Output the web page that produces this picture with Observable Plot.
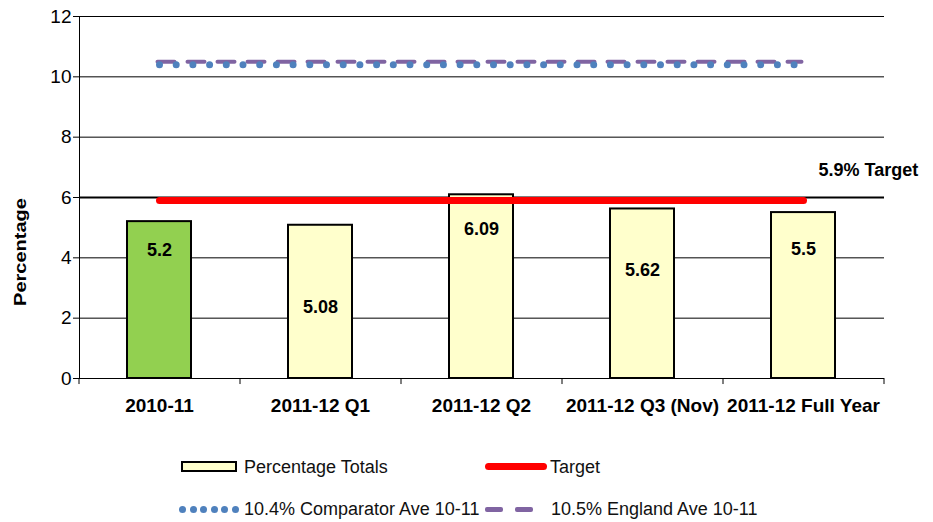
<!DOCTYPE html>
<html>
<head>
<meta charset="utf-8">
<script src="https://cdn.jsdelivr.net/npm/d3@7"></script>
<script src="https://cdn.jsdelivr.net/npm/@observablehq/plot@0.6"></script>
<style>
  body { margin: 0; background: #fff; }
  #wrap { position: relative; width: 933px; height: 522px; font-family: "Liberation Sans", Arial, sans-serif; color: #000; }
  #chart { position: absolute; left: 0; top: 0; }
  .lgtext { position: absolute; font-size: 18px; line-height: 1; white-space: nowrap; transform: translateY(-50%); color: #111; }
  .ylab { position: absolute; font-family: "Liberation Sans", Arial, sans-serif; font-weight: bold; font-size: 16px; white-space: nowrap; transform-origin: center center; }
</style>
</head>
<body>
<div id="wrap"><div id="chart"></div></div>
<script>
// ---- data ----
const categories = ["2010-11", "2011-12 Q1", "2011-12 Q2", "2011-12 Q3 (Nov)", "2011-12 Full Year"];
const values = [5.2, 5.08, 6.09, 5.62, 5.5];
const labelLevels = [4.25, 2.35, 4.95, 3.6, 4.3];   // where the data labels sit (value units)
const targetValue = 5.9;
const comparatorAve = 10.4;
const englandAve = 10.5;
const yTicks = [0, 2, 4, 6, 8, 10, 12];
const seriesNames = ["Percentage Totals", "Target", "10.4% Comparator Ave 10-11", "10.5% England Ave 10-11"];
const targetLabel = "5.9% Target";
const yLabel = "Percentage";

// ---- styles ----
const GREEN = "#92D050", YELLOW = "#FFFFCC", RED = "#FF0000", BLUE = "#4F81BD", PURPLE = "#8064A2";
const W = 933, H = 440, ML = 79, MR = 49, MT = 16, MB = 62;
const step = (W - ML - MR) / categories.length;

const rows = categories.map((c, i) => ({period: c, value: values[i], labelAt: labelLevels[i], first: i === 0}));

const chart = Plot.plot({
  width: W, height: H,
  marginLeft: ML, marginRight: MR, marginTop: MT, marginBottom: MB,
  style: {fontFamily: '"Liberation Sans", Arial, sans-serif', fontSize: "19px", color: "#000", background: "#fff", overflow: "visible"},
  x: {domain: categories, paddingInner: 0.6, paddingOuter: 0.3, tickSize: 0, tickPadding: 20, label: null},
  y: {domain: [0, 12], ticks: yTicks, tickSize: 6, tickPadding: 2, label: null, line: true},
  marks: [
    Plot.ruleY(yTicks.filter(t => t !== 0 && t !== 6), {stroke: "#000", strokeWidth: 1}),
    Plot.ruleY([6], {stroke: "#000", strokeWidth: 2}),
    Plot.barY(rows, {x: "period", y: "value", fill: d => d.first ? GREEN : YELLOW, stroke: "#000", strokeWidth: 2}),
    Plot.ruleY([0], {stroke: "#000", strokeWidth: 1}),
    Plot.ruleX(categories, {x: d => d, y1: 0, y2: -0.2, dx: -step / 2, stroke: "#000"}),
    Plot.ruleX([categories[categories.length - 1]], {x: d => d, y1: 0, y2: -0.2, dx: step / 2, stroke: "#000"}),
    Plot.line(categories, {x: d => d, y: () => targetValue, stroke: RED, strokeWidth: 7, strokeLinecap: "round"}),
    Plot.line(categories, {x: d => d, y: () => englandAve, stroke: PURPLE, strokeWidth: 4, strokeDasharray: "17,13", dx: -2}),
    Plot.line(categories, {x: d => d, y: () => comparatorAve, stroke: BLUE, strokeWidth: 7, strokeLinecap: "round", strokeDasharray: "0,16.7"}),
    Plot.text(rows, {x: "period", y: "labelAt", text: d => String(d.value), fontWeight: "bold", fontSize: 18, fill: "#000"}),
    Plot.text([targetLabel], {x: () => categories[categories.length - 1], y: () => targetValue, text: d => d, textAnchor: "start", dx: 15, dy: -30, fontWeight: "bold", fontSize: 18, fill: "#000"})
  ]
});
// bold x tick labels
d3.select(chart).selectAll('g[aria-label="x-axis tick label"] text, g[aria-label="x-axis"] text').attr("font-weight", "bold");
document.getElementById("chart").appendChild(chart);

const wrap = document.getElementById("wrap");
function add(html) { wrap.insertAdjacentHTML("beforeend", html); }

// y-axis title
add(`<div class="ylab" id="ylab">${yLabel}</div>`);
const yl = document.getElementById("ylab");
const r = yl.getBoundingClientRect();
yl.style.left = (21 - r.width / 2) + "px";
yl.style.top = (252 - r.height / 2) + "px";
yl.style.transform = "rotate(-90deg) scaleX(1.25)";

// legend
add(`<div style="position:absolute;left:181px;top:461px;width:52px;height:7px;background:${YELLOW};border:2px solid #000;"></div>`);
add(`<div class="lgtext" style="left:244px;top:467px;">${seriesNames[0]}</div>`);
add(`<div style="position:absolute;left:485px;top:463px;width:62px;height:7px;background:${RED};border-radius:4px;"></div>`);
add(`<div class="lgtext" style="left:550px;top:467px;">${seriesNames[1]}</div>`);
let dots = "";
for (let k = 0; k < 6; k++) dots += `<div style="position:absolute;left:${179 + k * 10.6}px;top:506px;width:7px;height:7px;border-radius:4px;background:${BLUE};"></div>`;
add(dots);
add(`<div class="lgtext" style="left:244px;top:509px;">${seriesNames[2]}</div>`);
add(`<div style="position:absolute;left:485px;top:507px;width:18px;height:5px;border-radius:2px;background:${PURPLE};"></div>`);
add(`<div style="position:absolute;left:515px;top:507px;width:18px;height:5px;border-radius:2px;background:${PURPLE};"></div>`);
add(`<div class="lgtext" style="left:551px;top:509px;">${seriesNames[3]}</div>`);
</script>
</body>
</html>
